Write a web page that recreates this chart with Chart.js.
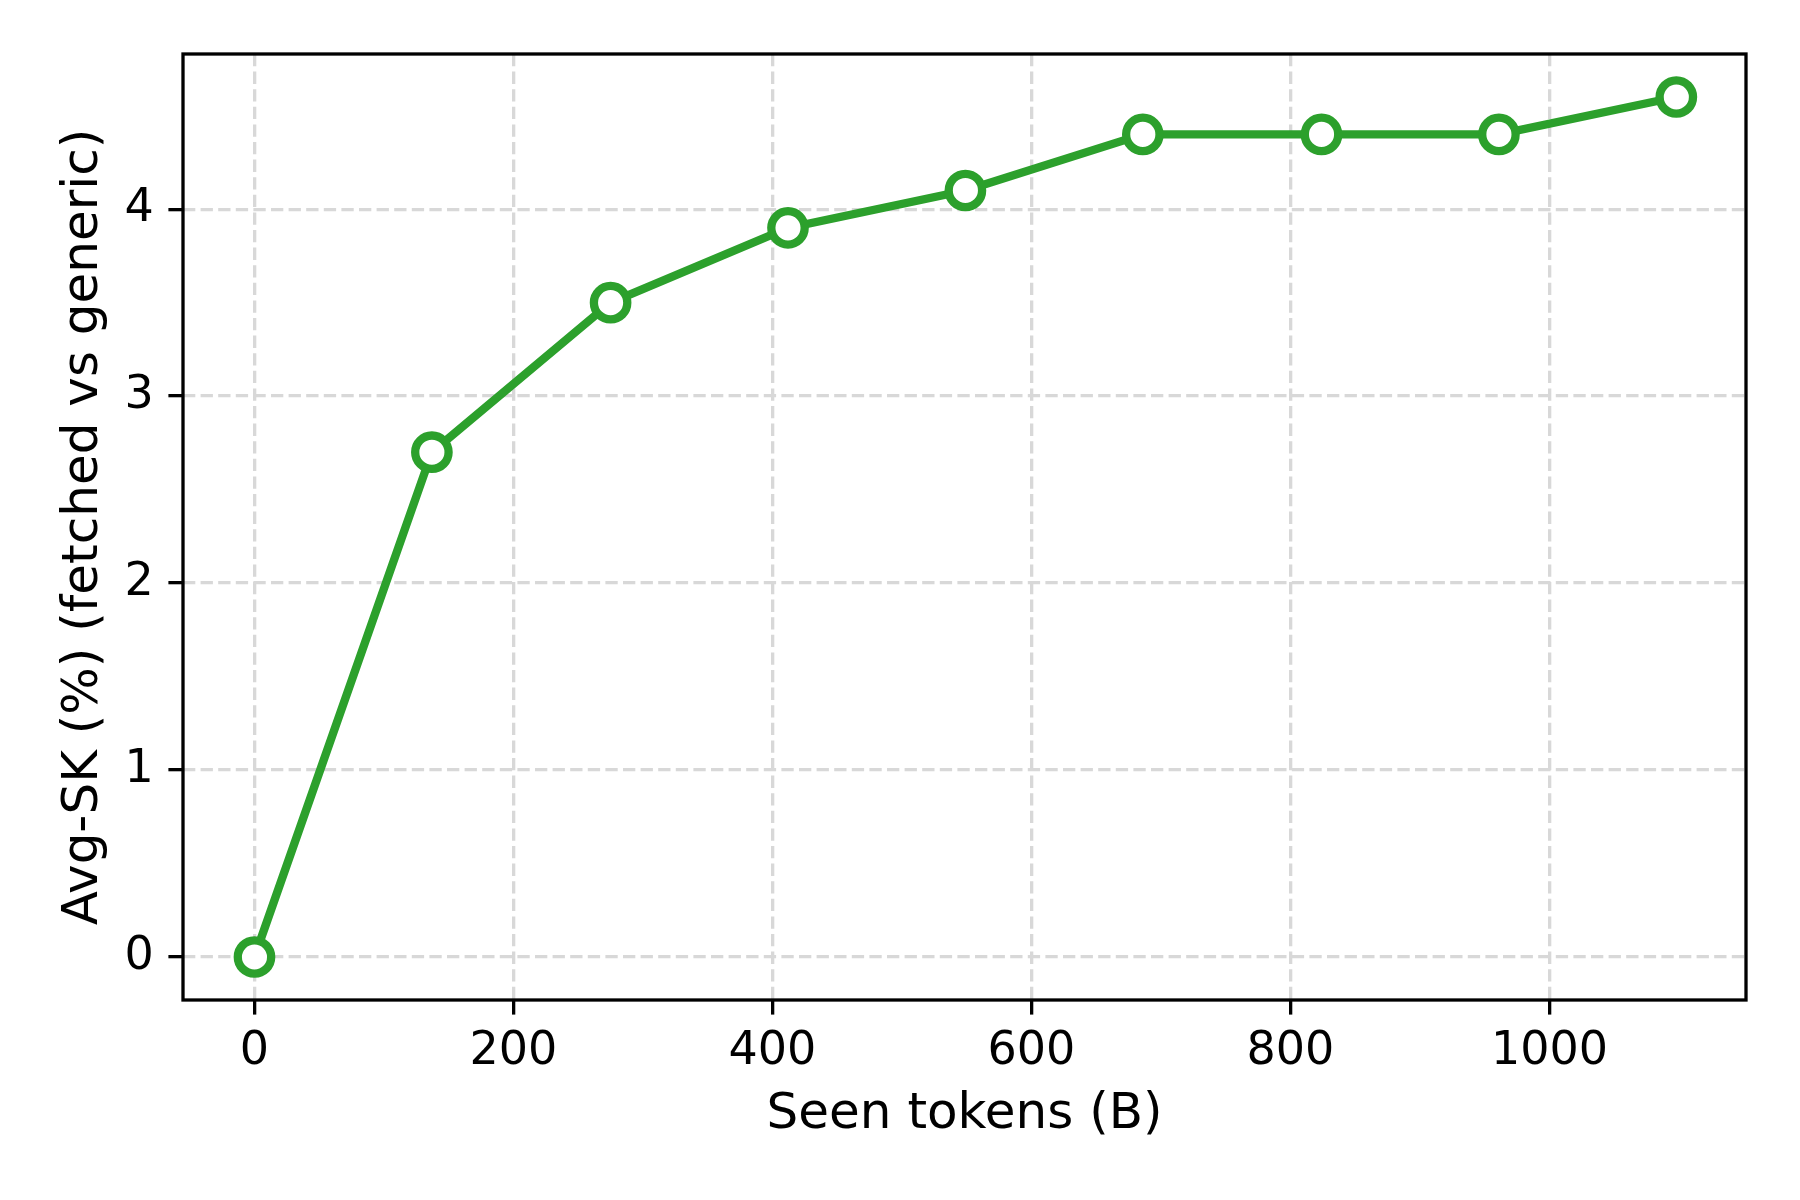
<!DOCTYPE html>
<html>
<head>
<meta charset="utf-8">
<script src="https://cdn.jsdelivr.net/npm/chart.js@4.4.1/dist/chart.umd.min.js"></script>
<style>
  html, body { margin: 0; padding: 0; background: #fff; }
  #wrap { width: 1800px; height: 1200px; }
</style>
</head>
<body>
<div id="wrap"><canvas id="chart" width="1800" height="1200"></canvas></div>
<script>
// ── DATA ──
const seenTokens = [0, 137, 275, 412, 549, 686, 824, 961, 1098];
const avgSK      = [0, 2.7, 3.5, 3.9, 4.1, 4.4, 4.4, 4.4, 4.6];
const xTicks     = [0, 200, 400, 600, 800, 1000];
const yTicks     = [0, 1, 2, 3, 4];

const GREEN = '#2ca02c';
const FONT = 'DejaVu Sans';

// frame around the plot area (matplotlib spines)
const framePlugin = {
  id: 'frame',
  afterDraw(chart) {
    const { ctx, chartArea: a } = chart;
    ctx.save();
    ctx.strokeStyle = '#000';
    ctx.lineWidth = 3.3;
    ctx.strokeRect(a.left, a.top, a.right - a.left, a.bottom - a.top);
    ctx.restore();
  }
};

const gridOpts = {
  color: '#d8d8d8',
  lineWidth: 3.3,
  drawTicks: true,
  tickLength: 14.6,
  tickColor: '#000',
  tickWidth: 3.3,
  tickBorderDash: [],
};

new Chart(document.getElementById('chart').getContext('2d'), {
  type: 'line',
  data: {
    datasets: [{
      data: seenTokens.map((x, i) => ({ x, y: avgSK[i] })),
      borderColor: GREEN,
      borderWidth: 8.3,
      backgroundColor: '#fff',
      pointBackgroundColor: '#fff',
      pointBorderColor: GREEN,
      pointBorderWidth: 8.3,
      pointRadius: 16.7,
      pointHoverRadius: 16.7,
      tension: 0,
      fill: false,
    }]
  },
  options: {
    responsive: false,
    animation: false,
    layout: { padding: { left: 0, right: 54, top: 54, bottom: 0 } },
    plugins: { legend: { display: false }, tooltip: { enabled: false } },
    scales: {
      x: {
        type: 'linear',
        min: -55.2, max: 1151.8,
        afterBuildTicks: s => { s.ticks = xTicks.map(v => ({ value: v })); },
        afterFit: s => { s.height = 200; },
        grid: gridOpts,
        border: { display: false, dash: [12.3, 5.3] },
        ticks: {
          color: '#000',
          padding: 10,
          maxRotation: 0,
          font: { family: FONT, size: 46 },
          callback: v => String(v),
        },
        title: {
          display: true,
          text: 'Seen tokens (B)',
          color: '#000',
          font: { family: FONT, size: 50 },
          padding: { top: 0, bottom: 55 },
        }
      },
      y: {
        type: 'linear',
        min: -0.23, max: 4.83,
        afterBuildTicks: s => { s.ticks = yTicks.map(v => ({ value: v })); },
        afterFit: s => { s.width = 183; },
        grid: gridOpts,
        border: { display: false, dash: [12.3, 5.3] },
        ticks: {
          color: '#000',
          padding: 14.6,
          font: { family: FONT, size: 46 },
          callback: v => String(v),
        },
        title: {
          display: true,
          text: 'Avg-SK (%) (fetched vs generic)',
          color: '#000',
          font: { family: FONT, size: 50 },
          padding: { top: 54, bottom: 0 },
        }
      }
    }
  },
  plugins: [framePlugin]
});
</script>
</body>
</html>
